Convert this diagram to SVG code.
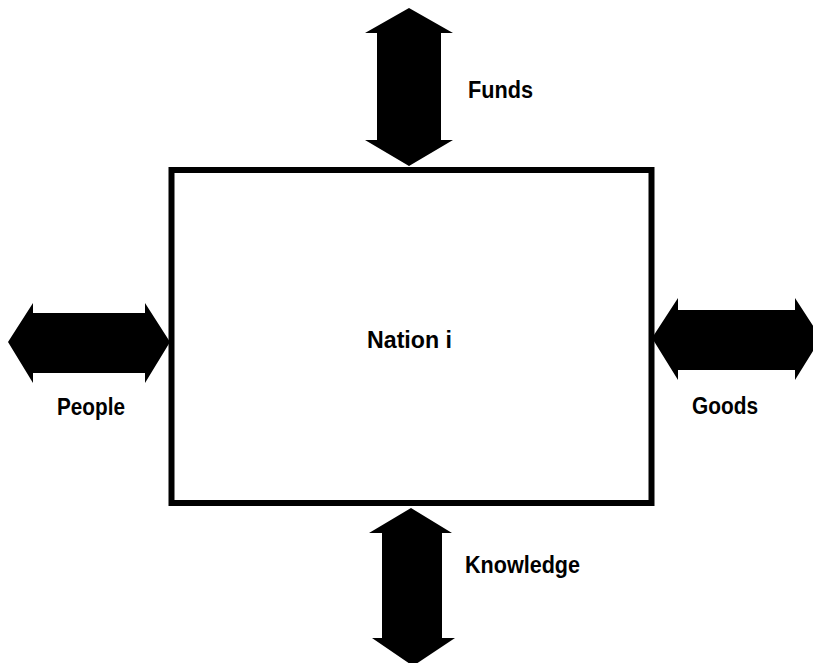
<svg xmlns="http://www.w3.org/2000/svg" width="813" height="663" viewBox="0 0 813 663">
<style>
.arrow{fill:#000;stroke:none}
.box{fill:#fff;stroke:#000;stroke-width:6}
.lbl{font-family:"Liberation Sans",Arial,sans-serif;font-weight:bold;font-size:23px;fill:#000}
</style>
<rect width="813" height="663" fill="#fff"/>
<g id="nation">
<rect class="box" x="171.5" y="170" width="480" height="333"/>
<text class="lbl" x="367" y="348" font-size="25" textLength="85" lengthAdjust="spacingAndGlyphs">Nation i</text>
</g>
<g id="connectors">
<g id="funds">
<polygon class="arrow" points="409,8 453,33 441,33 441,140 453,140 409,166 365,140 377,140 377,33 365,33"/>
<text class="lbl" x="468" y="98" textLength="65" lengthAdjust="spacingAndGlyphs">Funds</text>
</g>
<g id="people">
<polygon class="arrow" points="8,342 33,303 33,313 145,313 145,303 170,342 145,383 145,373 33,373 33,383"/>
<text class="lbl" x="57" y="415" textLength="68" lengthAdjust="spacingAndGlyphs">People</text>
</g>
<g id="goods">
<polygon class="arrow" points="652,338 678,298 678,310 795,310 795,298 821,338 795,380 795,370 678,370 678,380"/>
<text class="lbl" x="692" y="414" textLength="66" lengthAdjust="spacingAndGlyphs">Goods</text>
</g>
<g id="knowledge">
<polygon class="arrow" points="411,508 452,533 442,533 442,638 455,638 413,666 372,638 382,638 382,533 369,533"/>
<text class="lbl" x="465" y="573" textLength="115" lengthAdjust="spacingAndGlyphs">Knowledge</text>
</g>
</g>
</svg>
